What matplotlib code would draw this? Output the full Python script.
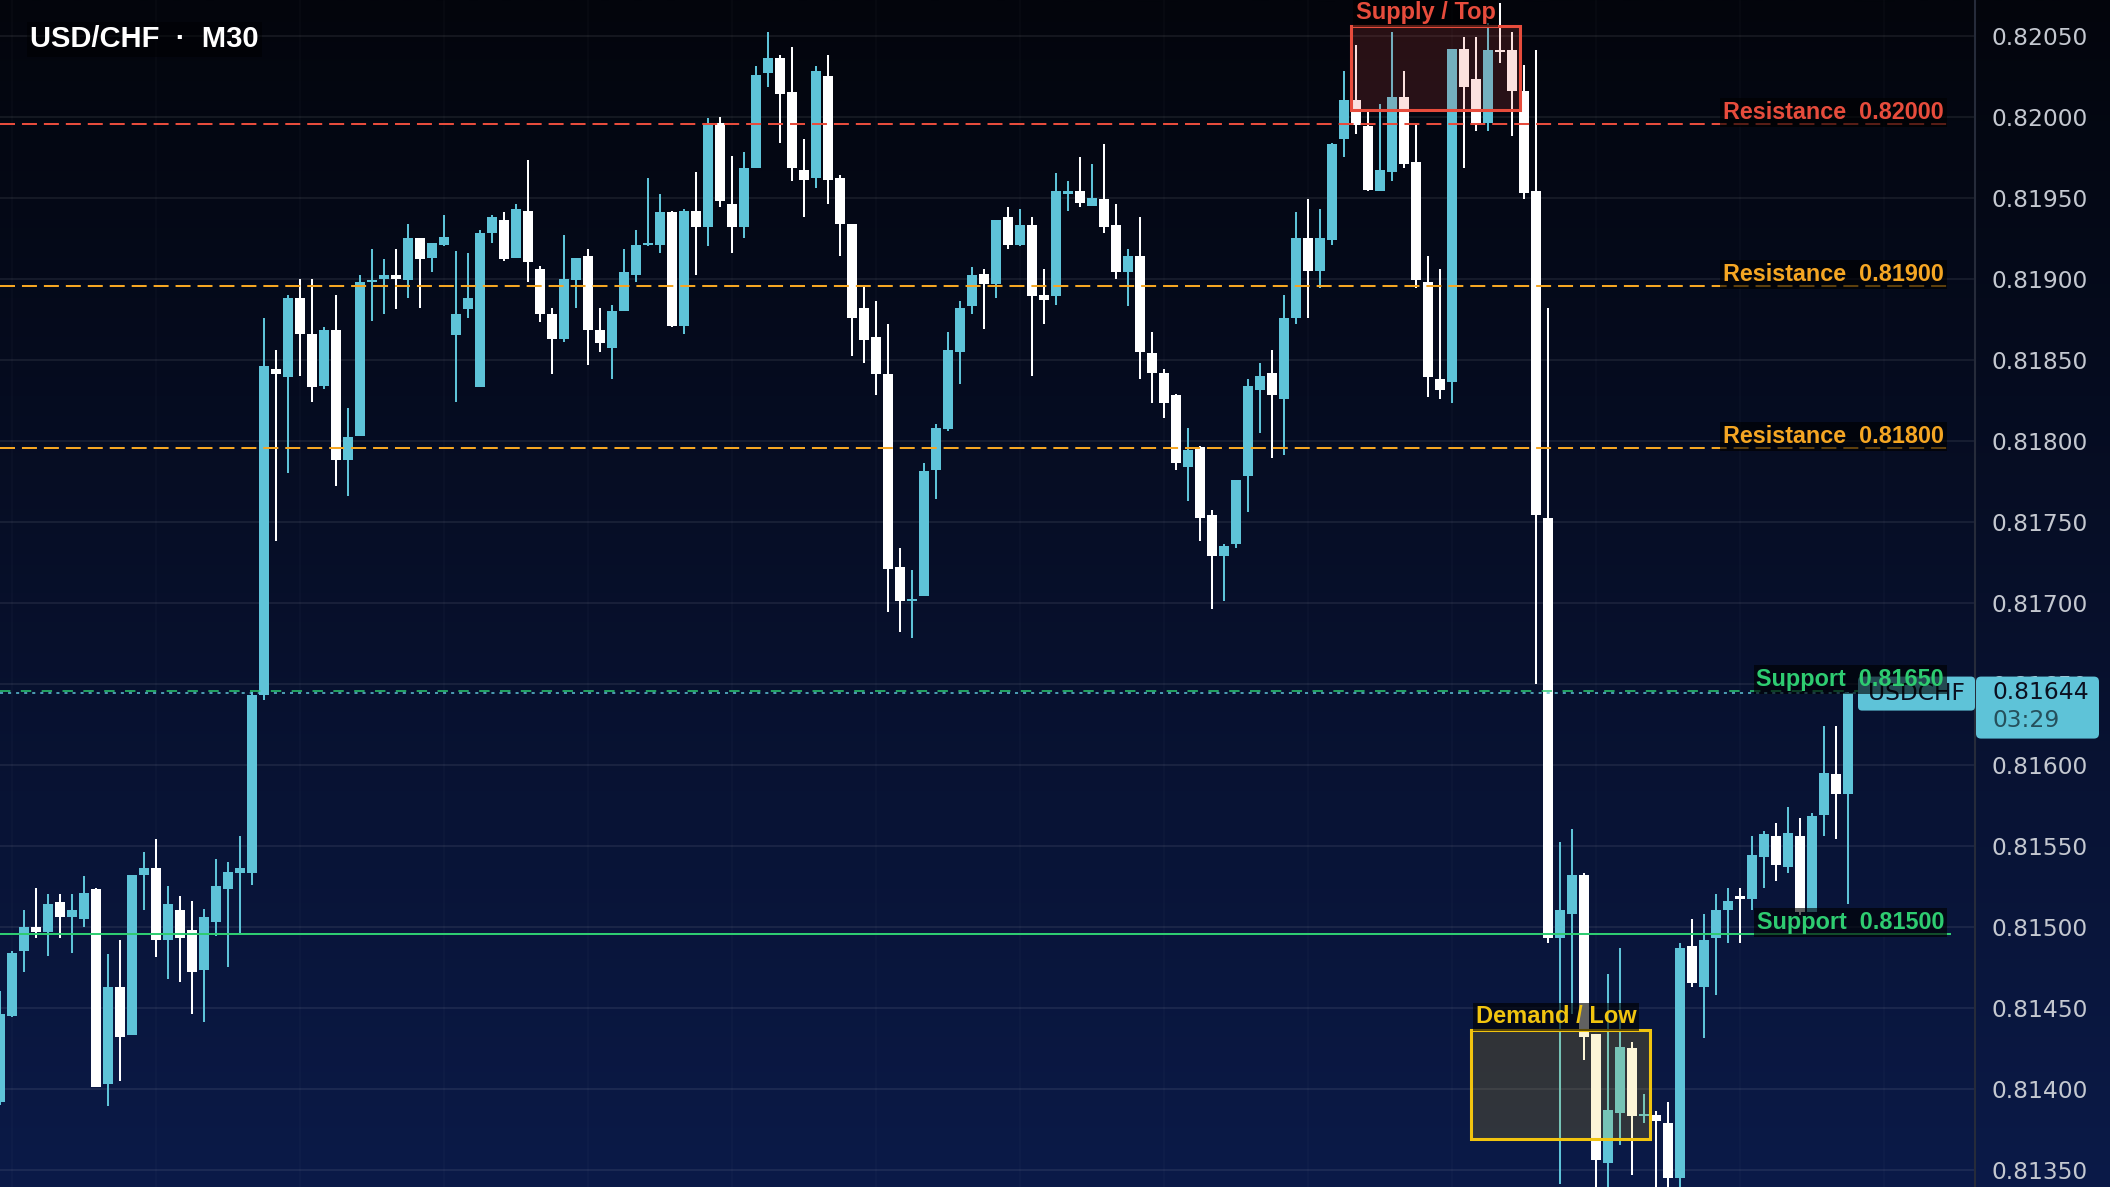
import numpy as np
import matplotlib
matplotlib.use("Agg")
import matplotlib.pyplot as plt
import matplotlib.transforms as mtransforms
from matplotlib.patches import Rectangle, FancyBboxPatch
from matplotlib.colors import to_rgb

plt.rcParams['lines.scale_dashes'] = False

# ---------------- data ----------------
title = "USD/CHF  \u00b7  M30"
symbol = "USDCHF"
countdown = "03:29"
last_price = 0.81644

opens = [0.81392, 0.81445, 0.81485, 0.81500, 0.81497, 0.81515, 0.81506, 0.81505, 0.81523, 0.81403,
         0.81463, 0.81433, 0.81532, 0.81536, 0.81492, 0.81510, 0.81498, 0.81473, 0.81503, 0.81523,
         0.81533, 0.81533, 0.81643, 0.81844, 0.81839, 0.81888, 0.81866, 0.81834, 0.81868, 0.81788,
         0.81803, 0.81898, 0.81900, 0.81902, 0.81899, 0.81925, 0.81913, 0.81921, 0.81865, 0.81881,
         0.81833, 0.81928, 0.81936, 0.81913, 0.81942, 0.81906, 0.81878, 0.81863, 0.81899, 0.81914,
         0.81868, 0.81857, 0.81880, 0.81902, 0.81921, 0.81921, 0.81941, 0.81871, 0.81942, 0.81932,
         0.81996, 0.81946, 0.81932, 0.81968, 0.82027, 0.82036, 0.82015, 0.81967, 0.81962, 0.82025,
         0.81962, 0.81934, 0.81882, 0.81864, 0.81841, 0.81722, 0.81701, 0.81704, 0.81782, 0.81807,
         0.81855, 0.81883, 0.81903, 0.81897, 0.81938, 0.81921, 0.81933, 0.81890, 0.81889, 0.81952,
         0.81954, 0.81945, 0.81949, 0.81933, 0.81904, 0.81914, 0.81854, 0.81842, 0.81828, 0.81784,
         0.81796, 0.81754, 0.81729, 0.81736, 0.81778, 0.81831, 0.81842, 0.81826, 0.81876, 0.81925,
         0.81905, 0.81924, 0.81986, 0.82010, 0.81994, 0.81954, 0.81966, 0.82012, 0.81972, 0.81898,
         0.81838, 0.81836, 0.82042, 0.82023, 0.81996, 0.82041, 0.82041, 0.82016, 0.81954, 0.81752,
         0.81493, 0.81508, 0.81532, 0.81434, 0.81354, 0.81385, 0.81425, 0.81383, 0.81384, 0.81379,
         0.81345, 0.81488, 0.81463, 0.81493, 0.81510, 0.81519, 0.81517, 0.81543, 0.81556, 0.81537,
         0.81556, 0.81509, 0.81569, 0.81594, 0.81582]
highs = [0.81460, 0.81485, 0.81510, 0.81524, 0.81520, 0.81520, 0.81520, 0.81531, 0.81524, 0.81483,
         0.81492, 0.81532, 0.81546, 0.81554, 0.81525, 0.81519, 0.81516, 0.81511, 0.81542, 0.81540,
         0.81556, 0.81645, 0.81876, 0.81856, 0.81890, 0.81900, 0.81900, 0.81870, 0.81890, 0.81820,
         0.81902, 0.81918, 0.81912, 0.81918, 0.81934, 0.81925, 0.81922, 0.81939, 0.81917, 0.81916,
         0.81930, 0.81939, 0.81941, 0.81946, 0.81973, 0.81908, 0.81882, 0.81927, 0.81913, 0.81918,
         0.81882, 0.81884, 0.81918, 0.81930, 0.81962, 0.81952, 0.81942, 0.81943, 0.81966, 0.81999,
         0.82000, 0.81976, 0.81978, 0.82031, 0.82052, 0.82038, 0.82043, 0.81986, 0.82031, 0.82038,
         0.81964, 0.81934, 0.81895, 0.81886, 0.81872, 0.81734, 0.81720, 0.81786, 0.81810, 0.81867,
         0.81886, 0.81907, 0.81906, 0.81936, 0.81944, 0.81943, 0.81938, 0.81906, 0.81965, 0.81960,
         0.81975, 0.81971, 0.81983, 0.81946, 0.81918, 0.81938, 0.81867, 0.81844, 0.81829, 0.81808,
         0.81797, 0.81757, 0.81736, 0.81776, 0.81838, 0.81848, 0.81856, 0.81890, 0.81941, 0.81949,
         0.81943, 0.81984, 0.82028, 0.82044, 0.82004, 0.82008, 0.82052, 0.82028, 0.81995, 0.81914,
         0.81906, 0.82042, 0.82049, 0.82049, 0.82058, 0.82070, 0.82052, 0.82032, 0.82041, 0.81882,
         0.81552, 0.81560, 0.81533, 0.81434, 0.81471, 0.81487, 0.81429, 0.81397, 0.81386, 0.81392,
         0.81490, 0.81505, 0.81508, 0.81520, 0.81524, 0.81524, 0.81556, 0.81559, 0.81564, 0.81574,
         0.81567, 0.81570, 0.81624, 0.81624, 0.81645]
lows = [0.81390, 0.81444, 0.81472, 0.81493, 0.81482, 0.81493, 0.81484, 0.81500, 0.81401, 0.81389,
        0.81405, 0.81433, 0.81510, 0.81481, 0.81468, 0.81466, 0.81446, 0.81441, 0.81494, 0.81475,
        0.81495, 0.81526, 0.81640, 0.81738, 0.81780, 0.81840, 0.81824, 0.81832, 0.81772, 0.81766,
        0.81803, 0.81874, 0.81878, 0.81881, 0.81888, 0.81882, 0.81904, 0.81920, 0.81824, 0.81876,
        0.81833, 0.81922, 0.81911, 0.81913, 0.81898, 0.81873, 0.81841, 0.81861, 0.81882, 0.81847,
        0.81855, 0.81838, 0.81880, 0.81898, 0.81920, 0.81916, 0.81870, 0.81866, 0.81902, 0.81920,
        0.81944, 0.81916, 0.81925, 0.81968, 0.82018, 0.81984, 0.81960, 0.81938, 0.81956, 0.81946,
        0.81914, 0.81852, 0.81848, 0.81828, 0.81694, 0.81682, 0.81678, 0.81704, 0.81764, 0.81806,
        0.81835, 0.81878, 0.81869, 0.81888, 0.81918, 0.81920, 0.81840, 0.81872, 0.81884, 0.81942,
        0.81944, 0.81945, 0.81928, 0.81900, 0.81883, 0.81838, 0.81823, 0.81814, 0.81782, 0.81763,
        0.81738, 0.81696, 0.81701, 0.81734, 0.81756, 0.81805, 0.81789, 0.81791, 0.81872, 0.81876,
        0.81894, 0.81921, 0.81975, 0.81989, 0.81954, 0.81954, 0.81960, 0.81968, 0.81894, 0.81827,
        0.81826, 0.81823, 0.81968, 0.81991, 0.81991, 0.82033, 0.81988, 0.81949, 0.81650, 0.81490,
        0.81341, 0.81446, 0.81418, 0.81335, 0.81335, 0.81365, 0.81347, 0.81379, 0.81335, 0.81337,
        0.81339, 0.81463, 0.81431, 0.81458, 0.81490, 0.81490, 0.81510, 0.81524, 0.81528, 0.81533,
        0.81507, 0.81509, 0.81556, 0.81554, 0.81514]
closes = [0.81446, 0.81484, 0.81500, 0.81497, 0.81514, 0.81506, 0.81510, 0.81521, 0.81401, 0.81463,
          0.81432, 0.81532, 0.81536, 0.81492, 0.81514, 0.81493, 0.81472, 0.81506, 0.81525, 0.81534,
          0.81536, 0.81643, 0.81846, 0.81841, 0.81888, 0.81866, 0.81833, 0.81868, 0.81788, 0.81802,
          0.81898, 0.81899, 0.81902, 0.81900, 0.81925, 0.81912, 0.81922, 0.81926, 0.81878, 0.81888,
          0.81928, 0.81938, 0.81912, 0.81943, 0.81910, 0.81878, 0.81863, 0.81900, 0.81913, 0.81868,
          0.81860, 0.81880, 0.81904, 0.81921, 0.81922, 0.81941, 0.81871, 0.81942, 0.81932, 0.81996,
          0.81948, 0.81932, 0.81968, 0.82026, 0.82036, 0.82014, 0.81968, 0.81961, 0.82028, 0.81961,
          0.81934, 0.81876, 0.81862, 0.81841, 0.81721, 0.81701, 0.81702, 0.81781, 0.81808, 0.81856,
          0.81882, 0.81902, 0.81897, 0.81936, 0.81921, 0.81933, 0.81889, 0.81887, 0.81954, 0.81954,
          0.81947, 0.81950, 0.81932, 0.81904, 0.81914, 0.81855, 0.81842, 0.81823, 0.81786, 0.81794,
          0.81752, 0.81729, 0.81735, 0.81776, 0.81834, 0.81840, 0.81828, 0.81876, 0.81925, 0.81905,
          0.81925, 0.81983, 0.82010, 0.81995, 0.81955, 0.81967, 0.82012, 0.81971, 0.81899, 0.81839,
          0.81831, 0.82042, 0.82018, 0.81996, 0.82041, 0.82040, 0.82016, 0.81953, 0.81754, 0.81493,
          0.81510, 0.81532, 0.81432, 0.81356, 0.81387, 0.81426, 0.81383, 0.81384, 0.81380, 0.81345,
          0.81487, 0.81465, 0.81492, 0.81510, 0.81516, 0.81517, 0.81544, 0.81557, 0.81538, 0.81558,
          0.81509, 0.81568, 0.81595, 0.81582, 0.81644]

level_values = [0.82000, 0.81900, 0.81800, 0.81650, 0.81500]
level_names = ["Resistance", "Resistance", "Resistance", "Support", "Support"]
level_kinds = ["red", "orange", "orange", "green_dash", "green_solid"]

price_ticks = [0.81350, 0.81400, 0.81450, 0.81500, 0.81550, 0.81600, 0.81650,
               0.81700, 0.81750, 0.81800, 0.81850, 0.81900, 0.81950, 0.82000, 0.82050]

supply_zone = {"x0": 112.55, "x1": 126.65, "low": 0.82004, "high": 0.82056, "label": "Supply / Top"}
demand_zone = {"x0": 122.55, "x1": 137.5, "low": 0.81369, "high": 0.81436, "label": "Demand / Low"}

# ---------------- styling ----------------
W, H, DPI = 2110, 1187, 100
CYAN = "#5ec3d8"
WHITE = "#ffffff"
RED = "#e74c3c"
ORANGE = "#f5a623"
GREEN = "#2ecc71"
YELLOW = "#f1c40f"
LEVEL_COLORS = {"red": RED, "orange": ORANGE, "green_dash": GREEN, "green_solid": GREEN}
LEVEL_DRAW_SHIFT = -0.000046
LABEL_FONT = "Liberation Sans"

fig = plt.figure(figsize=(W / DPI, H / DPI), dpi=DPI)

# background gradient
bg = fig.add_axes([0, 0, 1, 1], zorder=-10)
top = np.array([3, 5, 12]) / 255.0
bot = np.array([11, 26, 72]) / 255.0
t = np.linspace(0, 1, 256)[:, None]
grad = (top[None, :] * (1 - t) + bot[None, :] * t)[:, None, :]
bg.imshow(grad, aspect="auto", extent=[0, 1, 0, 1], origin="upper", interpolation="bilinear")
bg.set_axis_off()

ax = fig.add_axes([0, 0, 1975 / W, 1], zorder=0)
ax.set_facecolor("none")
ax.set_xlim(0, 164.58)
ax.set_ylim(0.813393, 0.820720)

# grid
ax.set_yticks(price_ticks)
ax.set_yticklabels([f"{v:.5f}" for v in price_ticks])
ax.grid(axis="y", color="white", alpha=0.07, lw=1.5)
ax.set_xticks([])
n = len(opens)
ax.vlines(np.arange(1, n + 10, 12), 0.813393, 0.820720, colors="white", alpha=0.025, lw=1.2, zorder=1)

ax.yaxis.tick_right()
ax.tick_params(axis="y", length=0, pad=12.2, labelsize=16.8, labelcolor="#c4c8d0")
for s in ["top", "left", "bottom"]:
    ax.spines[s].set_visible(False)
ax.spines["right"].set_color("#262b3a")
ax.spines["right"].set_linewidth(1.5)

# candles
x = np.arange(n)
o = np.array(opens); h = np.array(highs); l = np.array(lows); c = np.array(closes)
up = c >= o
cols = np.where(up, CYAN, WHITE)
ax.vlines(x, l, h, colors=cols, lw=1.45, zorder=3)
min_body = 0.000013
body_h = np.maximum(np.abs(c - o), min_body)
mid = (o + c) / 2
ax.bar(x, body_h, bottom=mid - body_h / 2, width=0.83, color=cols, linewidth=0, zorder=3.1)

# level lines
for val, name, kind in zip(level_values, level_names, level_kinds):
    col = LEVEL_COLORS[kind]
    yd = val + LEVEL_DRAW_SHIFT
    if kind == "green_solid":
        ax.hlines(yd, 0, 162.6, colors=col, lw=1.45, zorder=5)
    elif kind == "green_dash":
        ax.hlines(yd, 0, 162.6, colors=col, lw=1.1, linestyles=(0, (7.5, 7.5)), zorder=5)
    else:
        ax.hlines(yd, 0, 162.6, colors=col, lw=1.45, linestyles=(0, (10.8, 5.0)), zorder=5)
    ax.annotate(f"{name}  {val:.5f}", xy=(162.0, yd), xytext=(0, 5), textcoords="offset pixels",
                ha="right", va="baseline", color=col, fontsize=16.8, fontweight="bold",
                family=LABEL_FONT, zorder=8,
                bbox=dict(boxstyle="square,pad=0.12", fc=(0, 0, 0, 0.62), ec="none"))

# current price dotted line
ax.hlines(last_price, 0, 164.58, colors=CYAN, lw=1.1, linestyles=(0, (2.2, 3.6)), zorder=5)

# zones
for zone, col in [(supply_zone, RED), (demand_zone, YELLOW)]:
    rgb = to_rgb(col)
    ax.add_patch(Rectangle((zone["x0"], zone["low"]), zone["x1"] - zone["x0"], zone["high"] - zone["low"],
                           fc=(*rgb, 0.165), ec=col, lw=2.2, zorder=6))
    ax.annotate(zone["label"], xy=(zone["x0"], zone["high"]), xytext=(5, 7), textcoords="offset pixels",
                ha="left", va="baseline", color=col, fontsize=17, fontweight="bold", family=LABEL_FONT,
                zorder=8, bbox=dict(boxstyle="square,pad=0.12", fc=(0, 0, 0, 0.62), ec="none"),
                annotation_clip=False)

# title
fig.text(30 / W, 1 - 39 / H, title, fontsize=21, fontweight="bold", color="white", family=LABEL_FONT,
         ha="left", va="center",
         bbox=dict(boxstyle="square,pad=0.12", fc=(0, 0, 0, 0.45), ec="none"))

# price tags (pixel placement from the data transform)
ident = mtransforms.IdentityTransform()
y_disp = ax.transData.transform((0, last_price))[1]
ax.add_patch(FancyBboxPatch((1858, y_disp - 17.2), 117, 34, boxstyle="round,pad=0,rounding_size=4",
                            fc=CYAN, ec="none", transform=ident, clip_on=False, zorder=7))
ax.text(1868, y_disp, symbol, transform=ident, ha="left", va="center", fontsize=16.8,
        color="#0b1020", zorder=7.5, clip_on=False)
ax.add_patch(FancyBboxPatch((1976, y_disp - 45.2), 123, 62, boxstyle="round,pad=0,rounding_size=5",
                            fc=CYAN, ec="none", transform=ident, clip_on=False, zorder=9))
ax.text(1993, y_disp + 0.5, f"{last_price:.5f}", transform=ident, ha="left", va="center",
        fontsize=16.8, color="#0b1020", zorder=10, clip_on=False)
ax.text(1993, y_disp - 27.5, countdown, transform=ident, ha="left", va="center",
        fontsize=16.8, color="#25505c", zorder=10, clip_on=False)

fig.savefig("out.png", dpi=DPI)
